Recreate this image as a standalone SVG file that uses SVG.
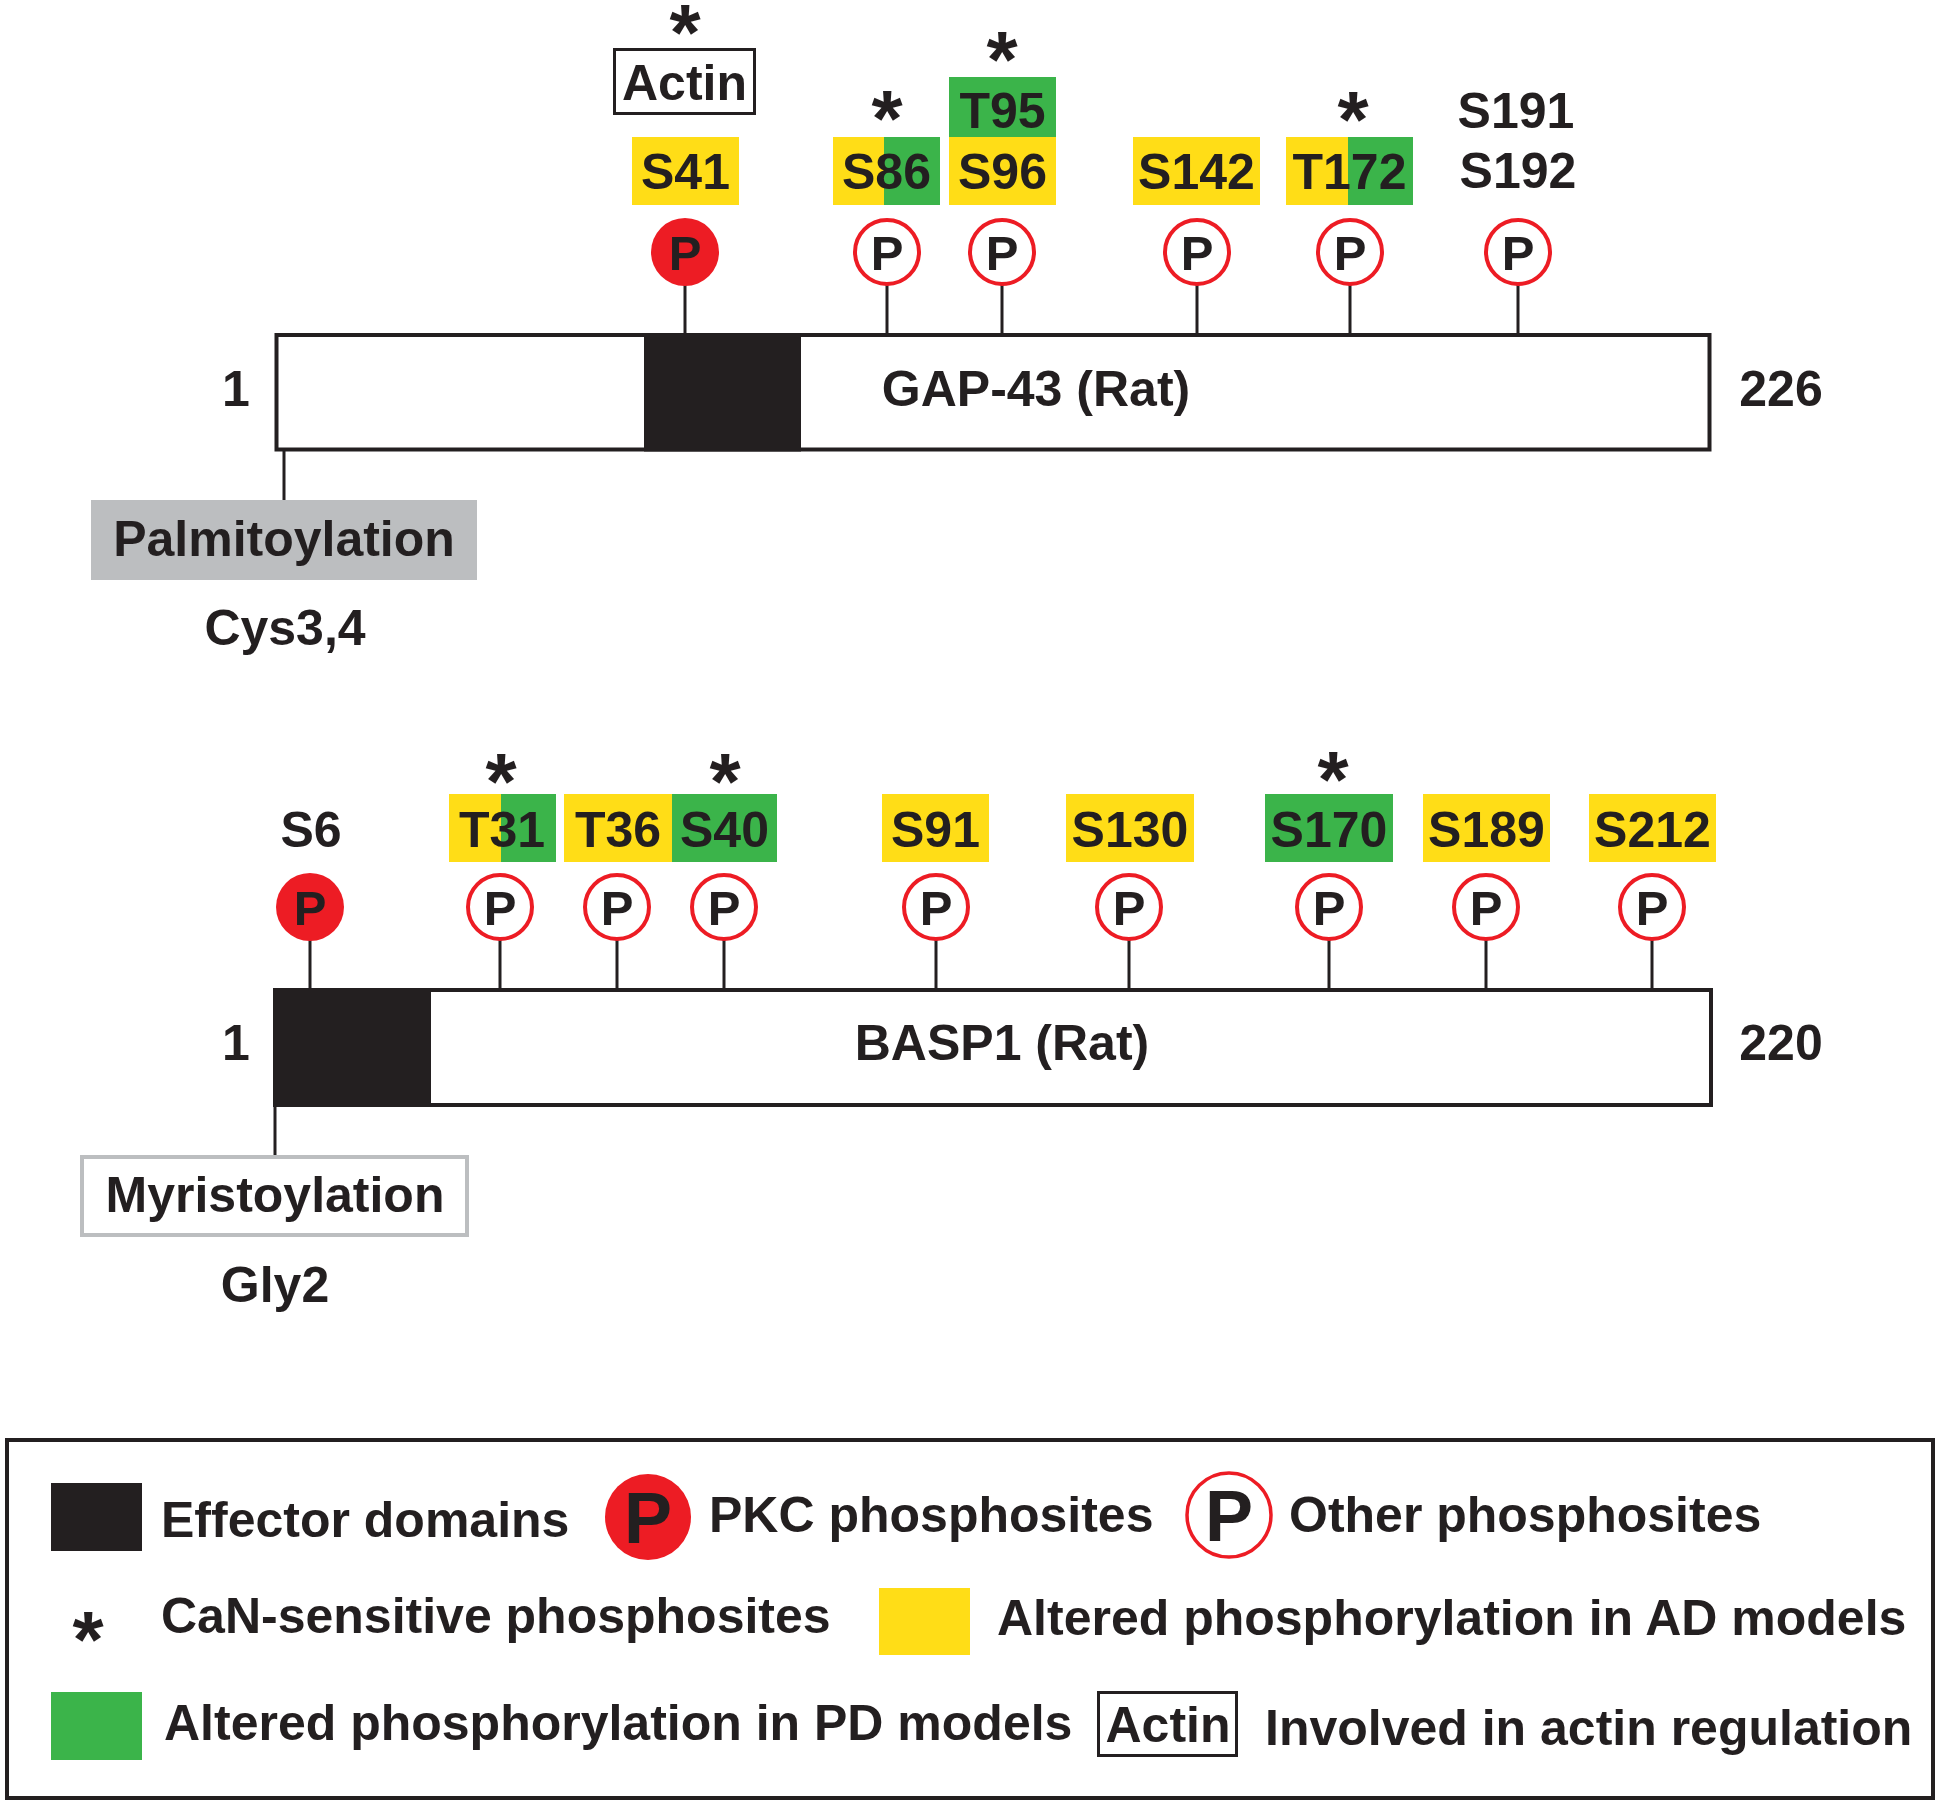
<svg xmlns="http://www.w3.org/2000/svg" width="1939" height="1806" viewBox="0 0 1939 1806">
<style>
text{font-family:"Liberation Sans",Arial,sans-serif;font-weight:bold;fill:#231F20;}
.t{font-size:50px;text-anchor:middle;}
.l{font-size:50px;}
.p{font-size:49px;text-anchor:middle;}
.ast{font-size:80px;text-anchor:middle;}
.y{fill:#FFDD17;}
.g{fill:#3BB44A;}
.bar{fill:#fff;stroke:#231F20;stroke-width:4;}
.dom{fill:#231F20;}
.pkc{fill:#ED1C24;}
.oth{fill:#fff;stroke:#ED1C24;stroke-width:4;}
.stem{stroke:#231F20;stroke-width:3;fill:none;}
</style>
<rect width="1939" height="1806" fill="#fff"/>

<!-- connectors -->
<g id="connectors">
<line class="stem" x1="685" y1="285" x2="685" y2="334"/>
<line class="stem" x1="887" y1="285" x2="887" y2="334"/>
<line class="stem" x1="1002" y1="285" x2="1002" y2="334"/>
<line class="stem" x1="1197" y1="285" x2="1197" y2="334"/>
<line class="stem" x1="1350" y1="285" x2="1350" y2="334"/>
<line class="stem" x1="1518" y1="285" x2="1518" y2="334"/>
<line class="stem" x1="284" y1="451" x2="284" y2="500"/>
<line class="stem" x1="310" y1="940" x2="310" y2="988"/>
<line class="stem" x1="500" y1="940" x2="500" y2="988"/>
<line class="stem" x1="617" y1="940" x2="617" y2="988"/>
<line class="stem" x1="724" y1="940" x2="724" y2="988"/>
<line class="stem" x1="936" y1="940" x2="936" y2="988"/>
<line class="stem" x1="1129" y1="940" x2="1129" y2="988"/>
<line class="stem" x1="1329" y1="940" x2="1329" y2="988"/>
<line class="stem" x1="1486" y1="940" x2="1486" y2="988"/>
<line class="stem" x1="1652" y1="940" x2="1652" y2="988"/>
<line class="stem" x1="275" y1="1107" x2="275" y2="1155"/>
</g>

<!-- GAP-43 -->
<g id="gap43">
<rect class="bar" x="276.5" y="335" width="1433" height="114.5"/>
<rect class="dom" x="644" y="333" width="157" height="118.5"/>
<text class="t" x="1036" y="406">GAP-43 (Rat)</text>
<text class="t" x="236" y="406">1</text>
<text class="t" x="1781" y="406">226</text>
</g>

<g id="gap-S41">
<rect fill="#fff" stroke="#231F20" stroke-width="3" x="614.5" y="49.5" width="140" height="64"/>
<text class="t" x="684.5" y="100">Actin</text>
<text class="ast" x="685" y="60">*</text>
<rect class="y" x="632" y="137" width="107" height="68"/>
<text class="t" x="685.5" y="189">S41</text>
<circle class="pkc" cx="685" cy="252" r="34"/>
<text class="p" x="685" y="270">P</text>
</g>

<g id="gap-S86">
<text class="ast" x="887" y="146">*</text>
<rect class="y" x="833" y="137" width="51" height="68"/>
<rect class="g" x="884" y="137" width="56" height="68"/>
<text class="t" x="886.5" y="189">S86</text>
<circle class="oth" cx="887" cy="252" r="32"/>
<text class="p" x="887" y="270">P</text>
</g>

<g id="gap-S96">
<text class="ast" x="1002" y="87">*</text>
<rect class="g" x="949" y="77" width="107" height="60"/>
<text class="t" x="1002.5" y="128">T95</text>
<rect class="y" x="949" y="137" width="107" height="68"/>
<text class="t" x="1002.5" y="189">S96</text>
<circle class="oth" cx="1002" cy="252" r="32"/>
<text class="p" x="1002" y="270">P</text>
</g>

<g id="gap-S142">
<rect class="y" x="1133" y="137" width="127" height="68"/>
<text class="t" x="1196.5" y="189">S142</text>
<circle class="oth" cx="1197" cy="252" r="32"/>
<text class="p" x="1197" y="270">P</text>
</g>

<g id="gap-T172">
<text class="ast" x="1353" y="147">*</text>
<rect class="y" x="1286" y="137" width="62" height="68"/>
<rect class="g" x="1348" y="137" width="65" height="68"/>
<text class="t" x="1349.5" y="189">T172</text>
<circle class="oth" cx="1350" cy="252" r="32"/>
<text class="p" x="1350" y="270">P</text>
</g>

<g id="gap-S191">
<text class="t" x="1516" y="128">S191</text>
<text class="t" x="1518" y="188">S192</text>
<circle class="oth" cx="1518" cy="252" r="32"/>
<text class="p" x="1518" y="270">P</text>
</g>

<g id="palmitoylation">
<rect x="91" y="500" width="386" height="80" fill="#BCBEC0"/>
<text class="t" x="284" y="556">Palmitoylation</text>
<text class="t" x="285" y="645">Cys3,4</text>
</g>

<!-- BASP1 -->
<g id="basp1">
<rect class="bar" x="275" y="990" width="1436" height="115"/>
<rect class="dom" x="273" y="988" width="158" height="119"/>
<text class="t" x="1002" y="1060">BASP1 (Rat)</text>
<text class="t" x="236" y="1060">1</text>
<text class="t" x="1781" y="1060">220</text>
</g>

<g id="basp-S6">
<text class="t" x="311" y="847">S6</text>
<circle class="pkc" cx="310" cy="907" r="34"/>
<text class="p" x="310" y="925">P</text>
</g>

<g id="basp-T31">
<text class="ast" x="501" y="809">*</text>
<rect class="y" x="449" y="794" width="52" height="68"/>
<rect class="g" x="501" y="794" width="55" height="68"/>
<text class="t" x="502" y="847">T31</text>
<circle class="oth" cx="500" cy="907" r="32"/>
<text class="p" x="500" y="925">P</text>
</g>

<g id="basp-T36">
<rect class="y" x="564" y="794" width="108" height="68"/>
<text class="t" x="618" y="847">T36</text>
<circle class="oth" cx="617" cy="907" r="32"/>
<text class="p" x="617" y="925">P</text>
</g>

<g id="basp-S40">
<text class="ast" x="725" y="809">*</text>
<rect class="g" x="672" y="794" width="105" height="68"/>
<text class="t" x="724.5" y="847">S40</text>
<circle class="oth" cx="724" cy="907" r="32"/>
<text class="p" x="724" y="925">P</text>
</g>

<g id="basp-S91">
<rect class="y" x="882" y="794" width="107" height="68"/>
<text class="t" x="935.5" y="847">S91</text>
<circle class="oth" cx="936" cy="907" r="32"/>
<text class="p" x="936" y="925">P</text>
</g>

<g id="basp-S130">
<rect class="y" x="1066" y="794" width="128" height="68"/>
<text class="t" x="1130" y="847">S130</text>
<circle class="oth" cx="1129" cy="907" r="32"/>
<text class="p" x="1129" y="925">P</text>
</g>

<g id="basp-S170">
<text class="ast" x="1333" y="807">*</text>
<rect class="g" x="1265" y="794" width="128" height="68"/>
<text class="t" x="1329" y="847">S170</text>
<circle class="oth" cx="1329" cy="907" r="32"/>
<text class="p" x="1329" y="925">P</text>
</g>

<g id="basp-S189">
<rect class="y" x="1423" y="794" width="127" height="68"/>
<text class="t" x="1486.5" y="847">S189</text>
<circle class="oth" cx="1486" cy="907" r="32"/>
<text class="p" x="1486" y="925">P</text>
</g>

<g id="basp-S212">
<rect class="y" x="1589" y="794" width="127" height="68"/>
<text class="t" x="1652.5" y="847">S212</text>
<circle class="oth" cx="1652" cy="907" r="32"/>
<text class="p" x="1652" y="925">P</text>
</g>

<g id="myristoylation">
<rect x="82" y="1157" width="385" height="78" fill="#fff" stroke="#BCBEC0" stroke-width="4"/>
<text class="t" x="275" y="1212">Myristoylation</text>
<text class="t" x="275" y="1302">Gly2</text>
</g>

<!-- Legend -->
<g id="legend">
<rect x="7" y="1440" width="1926" height="358" fill="none" stroke="#231F20" stroke-width="4"/>
<rect class="dom" x="51" y="1483" width="91" height="68"/>
<text class="l" x="161" y="1537">Effector domains</text>
<circle class="pkc" cx="648" cy="1517" r="43"/>
<text x="648" y="1543" style="font-size:72px;text-anchor:middle">P</text>
<text class="l" x="709" y="1532">PKC phosphosites</text>
<circle fill="#fff" stroke="#ED1C24" stroke-width="3.5" cx="1229" cy="1515" r="42"/>
<text x="1229" y="1541" style="font-size:72px;text-anchor:middle">P</text>
<text class="l" x="1289" y="1532">Other phosphosites</text>
<text class="ast" x="88" y="1667">*</text>
<text class="l" x="161" y="1633">CaN-sensitive phosphosites</text>
<rect class="y" x="879" y="1588" width="91" height="67"/>
<text class="l" x="997" y="1635">Altered phosphorylation in AD models</text>
<rect class="g" x="51" y="1692" width="91" height="68"/>
<text class="l" x="164" y="1740">Altered phosphorylation in PD models</text>
<rect x="1098.5" y="1692.5" width="138" height="63" fill="#fff" stroke="#231F20" stroke-width="3"/>
<text class="t" x="1168" y="1742">Actin</text>
<text class="l" x="1265" y="1745">Involved in actin regulation</text>
</g>
</svg>
